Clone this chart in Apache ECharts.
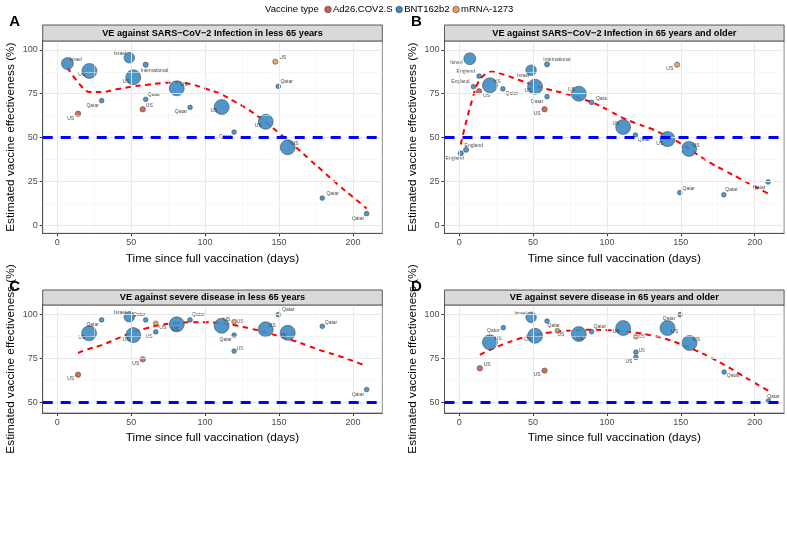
<!DOCTYPE html>
<html><head><meta charset="utf-8">
<script src="https://cdn.jsdelivr.net/npm/echarts@6/dist/echarts.min.js"></script>
<style>html,body{margin:0;padding:0;background:#fff}#c{width:787px;height:533px}</style>
</head><body><div id="c"></div>
<script>
// ---------- data ----------
const vaccineTypes = ['Ad26.COV2.S', 'BNT162b2', 'mRNA-1273'];
const xTicks = [0, 50, 100, 150, 200];
const yTicksInfection = [0, 25, 50, 75, 100];
const yTicksSevere = [50, 75, 100];
const referenceVE = 50;

const titleA = 'VE against SARS\u2212CoV\u22122 Infection in less 65 years';
const titleB = 'VE against SARS\u2212CoV\u22122 Infection in 65 years and older';
const titleC = 'VE against severe disease in less 65 years';
const titleD = 'VE against severe disease in 65 years and older';

const AD = 'Ad26.COV2.S', BN = 'BNT162b2', MR = 'mRNA-1273';

// Panel A
const daysA = [6.8, 21.7, 30, 14, 48.7, 59.8, 51.4, 59.8, 57.8, 80.8, 89.8, 111.2, 119.6, 147.5, 149.5, 141, 155.9, 179.3, 209.3];
const veA   = [92.2, 88, 71, 63.6, 95.6, 91.6, 84.4, 71.8, 66.1, 78.1, 67.2, 67.4, 53.1, 93.3, 79.2, 59, 44.4, 15.4, 6.5];
const typeA = [BN, BN, BN, AD, BN, BN, BN, BN, AD, BN, BN, BN, BN, MR, BN, BN, BN, BN, BN];
const studySizeA = [64, 100, 10, 13, 50, 12, 100, 10, 13, 100, 10, 100, 10, 12, 10, 100, 100, 10, 10];
const countryA = ['Israel', 'US', 'Qatar', 'US', 'Israel', 'International', 'US', 'Qatar', 'US', 'US', 'Qatar', 'US', 'Qatar', 'US', 'Qatar', 'US', 'US', 'Qatar', 'Qatar'];
const fitDaysA = [6.8, 15, 22, 30, 40, 50, 60, 70, 80, 90, 100, 110, 120, 130, 140, 150, 160, 170, 180, 190, 200, 209.3];
const fitVeA   = [90, 80.5, 76, 76, 77.5, 79, 80, 81, 81.5, 80.5, 78, 75, 70.5, 65.5, 59.5, 52.5, 45.5, 38, 30.5, 23, 16, 9.5];

// Panel B
const daysB = [7.2, 13.5, 9.7, 13.5, 20.8, 29.6, 48.7, 59.5, 51.4, 59.5, 57.8, 81, 89.6, 147.5, 111, 119.3, 141, 155.6, 149.3, 179.1, 209.1, 1.1, 4.7];
const veB   = [95, 85, 79, 76.4, 79.8, 77.7, 88.4, 91.8, 79, 73.3, 66.1, 75, 70, 91.6, 56, 51.4, 49.1, 43.5, 18.5, 17.3, 24.6, 41, 43];
const typeB = [BN, BN, BN, AD, BN, BN, BN, BN, BN, BN, AD, BN, BN, MR, BN, BN, BN, BN, BN, BN, BN, BN, BN];
const studySizeB = [64, 10, 10, 13, 100, 10, 50, 12, 100, 10, 13, 100, 10, 12, 100, 10, 100, 100, 10, 10, 10, 12, 12];
const countryB = ['Israel', 'England', 'England', 'US', 'US', 'Qatar', 'Israel', 'International', 'US', 'Qatar', 'US', 'US', 'Qatar', 'US', 'US', 'Qatar', 'US', 'US', 'Qatar', 'Qatar', 'Qatar', 'England', 'England'];
const fitDaysB = [1.1, 3, 6, 9, 12, 16, 22, 30, 40, 50, 60, 70, 80, 90, 100, 110, 120, 130, 140, 150, 160, 170, 180, 190, 200, 209.1];
const fitVeB   = [46, 53, 63, 72, 80, 85, 87.5, 86, 83, 80, 77.5, 75.5, 73, 70, 66, 61.5, 58, 55, 51, 46.5, 41, 35.5, 31, 26.5, 22, 18];

// Panel C
const daysC = [14, 21.5, 30, 48.7, 59.8, 51.4, 57.8, 66.6, 66.6, 80.8, 89.8, 111.2, 119.6, 119.6, 119.6, 149.5, 141, 155.9, 179.3, 209.3];
const veC   = [65.7, 89.2, 96.8, 98.6, 96.8, 88.2, 74.4, 94.9, 90, 94.3, 96.8, 93.5, 95.8, 88.2, 79.1, 99.8, 91.5, 89.5, 93.2, 57.2];
const typeC = [AD, BN, BN, BN, BN, BN, AD, MR, BN, BN, BN, BN, MR, BN, BN, BN, BN, BN, BN, BN];
const studySizeC = [13, 100, 10, 50, 10, 100, 13, 10, 10, 100, 10, 100, 10, 10, 10, 10, 100, 100, 10, 10];
const countryC = ['US', 'US', 'Qatar', 'Israel', 'Qatar', 'US', 'US', 'US', 'US', 'US', 'Qatar', 'US', 'US', 'Qatar', 'US', 'Qatar', 'US', 'US', 'Qatar', 'Qatar'];
const fitDaysC = [14, 20, 30, 40, 50, 60, 70, 80, 90, 100, 110, 120, 130, 140, 150, 160, 170, 180, 190, 200, 209.3];
const fitVeC   = [78, 80, 82.5, 86, 89.5, 92, 94, 95, 95.5, 95.5, 95, 93.8, 92, 90, 87.5, 85, 82, 79, 76.5, 73.5, 70.5];

// Panel D
const daysD = [14, 20.8, 29.9, 48.7, 51.4, 59.5, 57.8, 66.5, 81, 89.6, 111, 119.6, 119.6, 119.6, 149.5, 141, 155.9, 179.3, 209.3];
const veD   = [69.3, 84.1, 92.4, 98.3, 87.8, 96.2, 68, 90.7, 88.8, 90.1, 92.2, 87.2, 78.5, 75.5, 99.8, 92.2, 83.7, 67.2, 50.7];
const typeD = [AD, BN, BN, BN, BN, BN, AD, MR, BN, BN, BN, MR, BN, BN, BN, BN, BN, BN, BN];
const studySizeD = [13, 100, 10, 50, 100, 10, 13, 10, 100, 10, 100, 10, 10, 10, 10, 100, 100, 10, 10];
const countryD = ['US', 'US', 'Qatar', 'Israel', 'US', 'Qatar', 'US', 'US', 'US', 'Qatar', 'US', 'US', 'US', 'US', 'Qatar', 'US', 'US', 'Qatar', 'Qatar'];
const fitDaysD = [14, 20, 30, 40, 50, 60, 70, 80, 90, 100, 110, 120, 130, 140, 150, 160, 170, 180, 190, 200, 209.3];
const fitVeD   = [77, 79.5, 83, 86, 88, 89.5, 90.5, 91, 91.2, 91, 90.5, 89.5, 88, 86, 83, 79.5, 75.5, 71, 66, 61, 56.5];

// ---------- label placement (style, px offsets of text centre) ----------
const labelOffsetA = [[8.4,-4.4],[-7.6,4],[-9,5.3],[-7.3,4.6],[-9.3,-4.4],[8.6,6],[-7.3,4.4],[8.3,-4.3],[6.6,-3.3],[7.3,-4],[-9,4.7],[-7.7,3.7],[-9,4.7],[7.4,-4],[8.4,-4.3],[-7.4,4.3],[7.3,-4],[10.4,-4],[-8.7,5.3]];
const labelOffsetB = [[-13.3,4],[-13.3,-4.6],[-13,-4.7],[7.4,4.7],[7.3,-3.6],[9,5],[-8,5.4],[10,-4.6],[-7,4.3],[-10,5],[-7.4,4.7],[-7.3,-3.7],[10.6,-3.6],[-7.3,4.3],[-7.3,-3.7],[8.6,5],[-7.7,4.3],[7,-3.3],[9,-4.4],[7.7,-4.7],[-9,5.3],[-6,5],[7.7,-4.4]];
const labelOffsetC = [[-7.3,4.3],[-7.3,4],[-9,5],[-9.3,-4],[-6.4,-5.3],[-7.3,4.3],[-7,4],[7,4.4],[-6.7,4.7],[-1.7,5],[8.3,-5.3],[5,-5.7],[6,0],[-8.3,5],[6,-2.7],[10,-4.7],[6.6,-3.3],[-5.4,3.3],[8.7,-4],[-8.7,5.3]];
const labelOffsetD = [[7.3,-3.3],[8.3,-3.6],[-10,3],[-10.6,-4],[-7.3,4.3],[6.7,4.7],[-7.4,4.3],[3.5,4],[1,5],[8.3,-5],[-7,4],[6,0],[6,-2],[-7,4],[-11,4],[7,4],[7,-3],[9,4],[5,-4]];

// ---------- styling ----------
const FONT = '"Liberation Sans", Arial, Helvetica, sans-serif';
const typeColor = {'Ad26.COV2.S': '#CB5E4E', 'BNT162b2': '#3C8CC4', 'mRNA-1273': '#E69E55'};
const X_MIN = -9.9, X_MAX = 219.9;

const panels = [
  {letter:'A', title:titleA, days:daysA, ve:veA, type:typeA, size:studySizeA, country:countryA, off:labelOffsetA, fx:fitDaysA, fy:fitVeA,
   grid:{left:42.7, top:41, width:339.6, height:192.3}, yMin:-4.7, yMax:105.1, yTicks:yTicksInfection, yMinor:[12.5,37.5,62.5,87.5]},
  {letter:'B', title:titleB, days:daysB, ve:veB, type:typeB, size:studySizeB, country:countryB, off:labelOffsetB, fx:fitDaysB, fy:fitVeB,
   grid:{left:444.5, top:41, width:339.6, height:192.3}, yMin:-4.7, yMax:105.1, yTicks:yTicksInfection, yMinor:[12.5,37.5,62.5,87.5]},
  {letter:'C', title:titleC, days:daysC, ve:veC, type:typeC, size:studySizeC, country:countryC, off:labelOffsetC, fx:fitDaysC, fy:fitVeC,
   grid:{left:42.7, top:305, width:339.6, height:108}, yMin:43.9, yMax:105.3, yTicks:yTicksSevere, yMinor:[62.5,87.5]},
  {letter:'D', title:titleD, days:daysD, ve:veD, type:typeD, size:studySizeD, country:countryD, off:labelOffsetD, fx:fitDaysD, fy:fitVeD,
   grid:{left:444.5, top:305, width:339.6, height:108}, yMin:43.9, yMax:105.3, yTicks:yTicksSevere, yMinor:[62.5,87.5]}
];
const xMinor = [25, 75, 125, 175];

const grids = [], xAxes = [], yAxes = [], series = [], graphics = [];

panels.forEach((p, i) => {
  grids.push(Object.assign({show:true, borderColor:'#8c8c8c', borderWidth:1, backgroundColor:'#fff'}, p.grid));
  xAxes.push({
    gridIndex:i, type:'value', min:X_MIN, max:X_MAX,
    name:'Time since full vaccination (days)', nameLocation:'middle', nameGap:19,
    nameTextStyle:{fontFamily:FONT, fontSize:11.8, color:'#000'},
    axisLine:{show:true, onZero:false, lineStyle:{color:'#555', width:1}},
    axisTick:{show:true, customValues:xTicks, length:3, lineStyle:{color:'#333'}},
    axisLabel:{customValues:xTicks, fontFamily:FONT, fontSize:9, color:'#4d4d4d', margin:5},
    splitLine:{show:false}
  });
  yAxes.push({
    gridIndex:i, type:'value', min:p.yMin, max:p.yMax,
    name:'Estimated vaccine effectiveness (%)', nameLocation:'middle', nameGap:26,
    nameTextStyle:{fontFamily:FONT, fontSize:11.8, color:'#000'},
    axisLine:{show:true, onZero:false, lineStyle:{color:'#555', width:1}},
    axisTick:{show:true, customValues:p.yTicks, length:3, lineStyle:{color:'#333'}},
    axisLabel:{customValues:p.yTicks, fontFamily:FONT, fontSize:9, color:'#4d4d4d', margin:5},
    splitLine:{show:false}
  });

  // gridlines
  const major = {color:'#e6e6e6', width:0.9, type:'solid'};
  const minor = {color:'#f0f0f0', width:0.5, type:'solid'};
  const gl = [];
  xTicks.forEach(v => gl.push({xAxis:v, lineStyle:major}));
  xMinor.forEach(v => gl.push({xAxis:v, lineStyle:minor}));
  p.yTicks.forEach(v => gl.push({yAxis:v, lineStyle:major}));
  p.yMinor.forEach(v => gl.push({yAxis:v, lineStyle:minor}));
  series.push({type:'line', xAxisIndex:i, yAxisIndex:i, data:[], z:1, silent:true,
    markLine:{silent:true, symbol:['none','none'], label:{show:false}, animation:false, data:gl}});
  // reference line
  series.push({type:'line', xAxisIndex:i, yAxisIndex:i, data:[], z:2, silent:true,
    markLine:{silent:true, symbol:['none','none'], label:{show:false}, animation:false,
      data:[{yAxis:referenceVE, lineStyle:{color:'#0000ff', width:3, type:[10,8]}}]}});
  // fitted trend
  series.push({type:'line', xAxisIndex:i, yAxisIndex:i, z:3, silent:true, showSymbol:false, smooth:0.4,
    data:p.fx.map((d,k)=>[d, p.fy[k]]),
    lineStyle:{color:'#ff0000', width:2, type:[5.5,4.5]}});
  // points per vaccine type
  vaccineTypes.forEach(t => {
    const items = [];
    p.days.forEach((d,k) => {
      if (p.type[k] !== t) return;
      items.push({name:p.country[k], value:[d, p.ve[k], p.size[k]], label:{offset:p.off[k]}});
    });
    series.push({type:'scatter', name:t, xAxisIndex:i, yAxisIndex:i, z:4, data:items,
      symbolSize:v => 15*Math.sqrt(v[2]/100),
      itemStyle:{color:typeColor[t], opacity:0.9, borderColor:'#2a2a2a', borderWidth:0.5},
      label:{show:true, position:'inside', formatter:'{b}', fontFamily:FONT, fontSize:5, color:'#333'},
      emphasis:{disabled:true}});
  });

  // strip
  const g = p.grid;
  const sh = i < 2 ? 16 : 15;
  graphics.push({type:'rect', shape:{x:g.left, y:g.top - sh, width:g.width, height:sh},
    style:{fill:'#d9d9d9', stroke:'#333', lineWidth:0.8}, z:10});
  graphics.push({type:'text', x:g.left + g.width/2, y:g.top - sh/2, z:11,
    style:{text:p.title, align:'center', verticalAlign:'middle', fontFamily:FONT, fontSize:9.2, fontWeight:'bold', fill:'#000'}});
  graphics.push({type:'text', x:g.left - 28, y:g.top - sh - 3, z:11,
    style:{text:p.letter, align:'center', verticalAlign:'middle', fontFamily:FONT, fontSize:15, fontWeight:'bold', fill:'#000'}});
});

// legend (drawn)
graphics.push({type:'text', x:265, y:9.5, style:{text:'Vaccine type', align:'left', verticalAlign:'middle', fontFamily:FONT, fontSize:9.5, fill:'#000'}});
let lx = 328;
vaccineTypes.forEach(t => {
  graphics.push({type:'circle', shape:{cx:lx, cy:9.5, r:3.3}, style:{fill:typeColor[t], stroke:'#2a2a2a', lineWidth:0.5}});
  const w = echarts.format.getTextRect ? echarts.format.getTextRect(t, '9.5px ' + FONT).width : t.length*5;
  graphics.push({type:'text', x:lx + 5, y:9.5, style:{text:t, align:'left', verticalAlign:'middle', fontFamily:FONT, fontSize:9.5, fill:'#000'}});
  lx += 5 + w + 6.5;
});

const chart = echarts.init(document.getElementById('c'), null, {renderer:'canvas'});
chart.setOption({
  animation:false,
  backgroundColor:'#fff',
  grid:grids, xAxis:xAxes, yAxis:yAxes, series:series, graphic:graphics
});
</script></body></html>
